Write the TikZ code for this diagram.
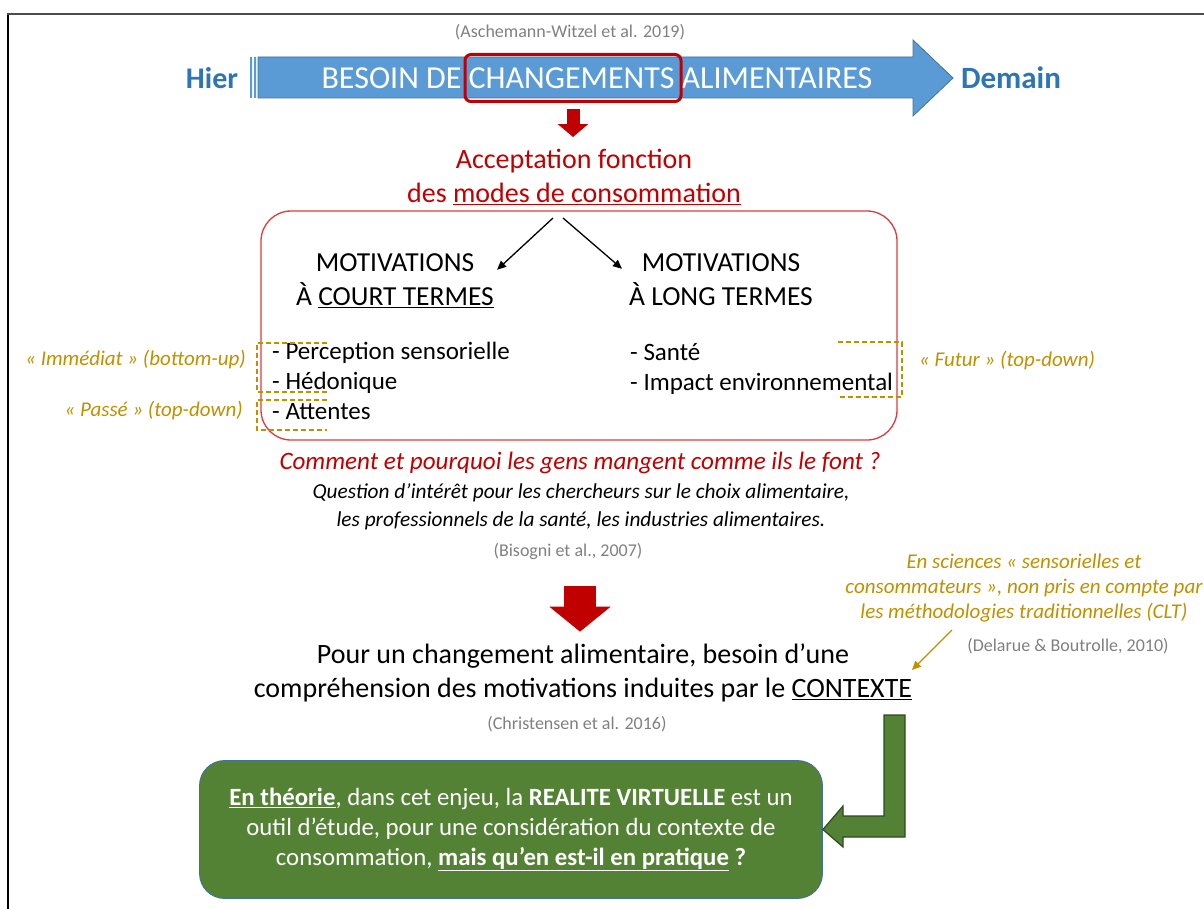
\documentclass[tikz,border=0pt]{standalone}
\usepackage{fontspec}
\setmainfont{Carlito}
\usepackage{xcolor}
\usetikzlibrary{positioning,arrows.meta}

\definecolor{bannerblue}{HTML}{5B9BD5}
\definecolor{bannerline}{HTML}{41719C}
\definecolor{titleblue}{HTML}{2E75B6}
\definecolor{darkred}{HTML}{C00000}
\definecolor{boxred}{HTML}{DC3B3D}
\definecolor{goldcol}{HTML}{BF9000}
\definecolor{citegray}{HTML}{808080}
\definecolor{vrgreen}{HTML}{548235}
\definecolor{vrline}{HTML}{2F4A1E}

\begin{document}
\begin{tikzpicture}[x=1pt,y=-1pt,
	  %style for arrows
	  arrw/.style={line width=1.3pt, -{Triangle[width=8pt,length=9pt]}},
	  redarrw/.style n args={3}{darkred, line width=#1, -{Triangle[width=#2,length=#3]}},
	  goldarrw/.style={goldcol, line width=1.3pt, -{Triangle[width=8pt,length=9pt]}},
	  % style for texts
	  txt/.style={inner sep=1pt, font=\fontsize{26}{34}\selectfont},
	  cite/.style={inner sep=1pt, text=citegray, font=\fontsize{18}{21}\selectfont},
	  goldtxt/.style={inner sep=1pt, text=goldcol, font=\fontsize{21}{25}\selectfont\itshape},
	  % style for dashed brackets
	  dsh/.style={draw=goldcol, line width=1.3pt, dash pattern=on 5pt off 3pt}]

      \useasboundingbox (0,0) rectangle (1204,909);
      \draw[black, line width=1.5pt] (8,909) -- (8,14);
      \draw[black!70, line width=2.5pt] (7.25,14) -- (1204,14);

      %banner
      \fill[bannerblue] (250,57) rectangle (252,98) (254,57) rectangle (256,98);
      \draw[bannerline, fill=bannerblue, line width=0.8pt] (258,57) -- (913,57) -- (913,40) -- (953,78)
          -- (913,116) -- (913,98) -- (258,98) -- cycle;
      \node[cite] (aschemann) at (570,32) {(Aschemann-Witzel et al. 2019)};
      \node[txt, text=titleblue, font=\fontsize{30}{34}\selectfont\bfseries] (hier) at (212,78) {Hier};
      \node[txt, text=titleblue, font=\fontsize{31}{34}\selectfont\bfseries] (demain) at (1011,78) {Demain};
      \node[txt, text=white, font=\fontsize{32}{36}\selectfont] (banner) at (597,78) {BESOIN DE CHANGEMENTS ALIMENTAIRES};
      \node[draw=darkred, line width=3pt, rounded corners=6pt, minimum width=216pt, minimum height=47pt] (chg) at (573,78) {};

      %nodes
      \node[txt, text=darkred, font=\fontsize{28}{34}\selectfont, align=center] (accept) at (574,177)
          {Acceptation fonction\\des \underline{modes de consommation}};
      \node[draw=boxred, line width=1.3pt, rounded corners=30pt, minimum width=636pt, minimum height=229pt] (motbox) at (579,325.5) {};
      \node[txt, font=\fontsize{27.5}{34}\selectfont, align=center] (motcourt) at (395,281) {MOTIVATIONS\\À \underline{COURT TERMES}};
      \node[txt, font=\fontsize{27.5}{34}\selectfont, align=center] (motlong) at (721,280) {MOTIVATIONS\\À LONG TERMES};
      \node[txt, font=\fontsize{25}{30}\selectfont, align=left, anchor=north west] (listcourt) at (271,341)
          {- Perception sensorielle\\- Hédonique\\- Attentes};
      \node[txt, font=\fontsize{25}{30}\selectfont, align=left, anchor=north west] (listlong) at (629,342)
          {- Santé\\- Impact environnemental};
      \node[goldtxt, anchor=east] (immediat) at (247,360) {«~Immédiat~» (bottom-up)};
      \node[goldtxt, anchor=east] (passe) at (244,411) {«~Passé~» (top-down)};
      \node[goldtxt, anchor=west] (futur) at (918,361) {«~Futur~» (top-down)};

      \node[txt, text=darkred, font=\fontsize{25.1}{30}\selectfont\itshape] (comment) at (580,463)
          {Comment et pourquoi les gens mangent comme ils le font ?};
      \node[txt, font=\fontsize{21.3}{28}\selectfont\itshape, align=center] (question) at (581,507)
          {Question d’intérêt pour les chercheurs sur le choix alimentaire,\\les professionnels de la santé, les industries alimentaires.};
      \node[cite] (bisogni) at (568,551) {(Bisogni et al., 2007)};

      \node[txt, font=\fontsize{28}{34}\selectfont, align=center] (besoin) at (583,673)
          {Pour un changement alimentaire, besoin d’une\\compréhension des motivations induites par le \underline{CONTEXTE}};
      \node[cite] (christensen) at (577,724) {(Christensen et al. 2016)};
      \node[goldtxt, align=center] (sciences) at (1024,588)
          {En sciences «~sensorielles et\\consommateurs~», non pris en compte par\\les méthodologies traditionnelles (CLT)};
      \node[cite] (delarue) at (1068,646) {(Delarue \& Boutrolle, 2010)};

      \node[draw=bannerline, line width=0.8pt, fill=vrgreen, rounded corners=25pt, minimum width=623pt, minimum height=138pt,
            text=white, font=\fontsize{24.8}{30}\selectfont, align=center] (theorie) at (511,829.5)
          {\textbf{\underline{En théorie}}, dans cet enjeu, la \textbf{REALITE VIRTUELLE} est un\\
           outil d’étude, pour une considération du contexte de\\
           consommation, \textbf{\underline{mais qu’en est-il en pratique} ?}};

      %dashed brackets
      \draw[dsh] (327,343) -| (257,392) -- (327,392);
      \draw[dsh] (327,400) -| (257,430) -- (327,430);
      \draw[dsh] (838,342) -| (902,397) -- (838,397);

      %edges
      \coordinate (forkl) at (553,218);
      \coordinate (forkr) at (563,218);
      \coordinate (ctxfrom) at (952,630);
      \coordinate (ctxto) at (912,670);
      \draw[redarrw={13pt}{30pt}{13pt}] ([yshift=-6pt]chg.south) -- ([yshift=11pt]chg.south |- accept.north);
      \draw[arrw] (forkl) -- ([xshift=2pt,yshift=-17pt]motcourt.north east);
      \draw[arrw] (forkr) -- ([xshift=-6pt,yshift=-16pt]motlong.north west);
      \draw[redarrw={32pt}{60pt}{25pt}] ([xshift=12pt,yshift=-26pt]bisogni.south)
          -- ([xshift=12pt,yshift=11pt]bisogni.south |- besoin.north);
      \draw[goldarrw] (ctxfrom) -- (ctxto);
      \draw[vrline, fill=vrgreen, line width=1.2pt] (905,715) -- (905,837) -- (843,837) -- (843,847)
          -- (theorie.east) -- (843,806) -- (843,816) -- (884,816) -- (884,715) -- cycle;
\end{tikzpicture}
\end{document}
